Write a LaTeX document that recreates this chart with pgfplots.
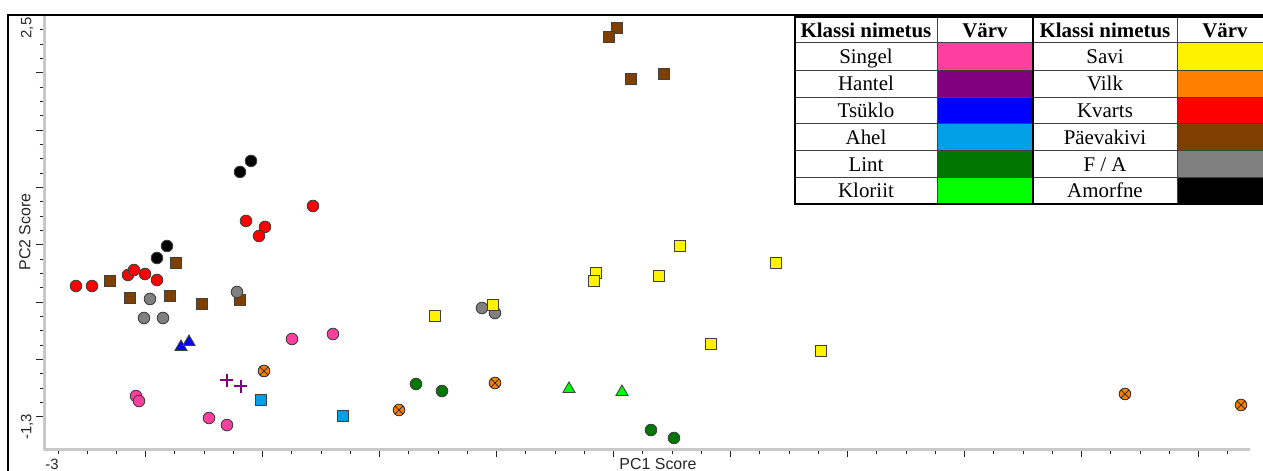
\documentclass[border=0pt]{standalone}
\usepackage{fontspec}
\setmainfont{Liberation Serif}
\newfontfamily\sansf{Liberation Sans}
\usepackage{pgfplots}
\pgfplotsset{compat=1.18}
\definecolor{csingel}{HTML}{FF3FA0}
\definecolor{chantel}{HTML}{800080}
\definecolor{ctsuklo}{HTML}{0000FF}
\definecolor{cahel}{HTML}{00A0E6}
\definecolor{clint}{HTML}{007800}
\definecolor{ckloriit}{HTML}{00FF00}
\definecolor{csavi}{HTML}{FFF200}
\definecolor{cvilk}{HTML}{FF8000}
\definecolor{ckvarts}{HTML}{FF0000}
\definecolor{cpaev}{HTML}{7F3F00}
\definecolor{cfa}{HTML}{808080}
\definecolor{camorf}{HTML}{000000}
\definecolor{axgray}{HTML}{C8C8C8}
\pgfplotsset{
  circ/.style={only marks, mark=*, mark size=5.8bp, mark options={fill=#1, draw=black!75, line width=0.9bp}},
  sq/.style={only marks, mark=square*, mark size=5.8bp, mark options={fill=#1, draw=black!75, line width=1bp}},
  tri/.style={only marks, mark=triangle*, mark size=7bp, mark options={fill=#1, draw=black!75, line width=0.9bp}},
}
\begin{document}
\begin{tikzpicture}
\begin{axis}[
  scale only axis, width=1206bp, height=435bp,
  xmin=-3.07, xmax=2.96, ymin=-1.624, ymax=2.647,
  axis x line*=bottom, axis y line*=left,
  axis line style={draw=axgray, line width=3bp, -},
  xtick={-2.56125,-1.97625,...,2.71},
  minor xtick={-3,-2.85375,...,2.86},
  ytick={-1.3,-0.737037,...,2.1},
  minor ytick={-1.3,-1.159259,...,2.51},
  xticklabels={}, yticklabels={},
  tick align=outside,
  major tick length=7.5bp, minor tick length=4.5bp,
  every tick/.style={black!85, line width=1bp},
  clip=false,
]
% Kvarts
\addplot[circ=ckvarts] coordinates {(-2.91,-0.014) (-2.83,-0.014) (-2.65,0.094) (-2.62,0.143) (-2.565,0.104) (-2.505,0.045) (-2.06,0.625) (-1.965,0.566) (-1.995,0.477) (-1.725,0.772)};
% Amorfne
\addplot[circ=camorf] coordinates {(-2.455,0.379) (-2.505,0.261) (-2.09,1.106) (-2.035,1.214)};
% Paevakivi
\addplot[sq=cpaev] coordinates {(-2.74,0.035) (-2.41,0.212) (-2.64,-0.131) (-2.44,-0.112) (-2.28,-0.190) (-2.09,-0.151) (-0.205,2.520) (-0.245,2.431) (-0.135,2.019) (0.03,2.068)};
% F / A
\addplot[circ=cfa] coordinates {(-2.54,-0.141) (-2.57,-0.328) (-2.475,-0.328) (-2.105,-0.073) (-0.88,-0.230) (-0.815,-0.279)};
% Singel
\addplot[circ=csingel] coordinates {(-1.83,-0.534) (-1.625,-0.485) (-2.61,-1.094) (-2.595,-1.143) (-2.245,-1.310) (-2.155,-1.379)};
% Tsuklo
\addplot[tri=ctsuklo] coordinates {(-2.385,-0.613) (-2.345,-0.564)};
% Hantel
\addplot[only marks, mark=+, mark size=6.5bp, mark options={draw=chantel, line width=2.3bp}] coordinates {(-2.155,-0.937) (-2.085,-0.996)};
% Vilk
\addplot[only marks, mark=otimes*, mark size=5.8bp, mark options={fill=cvilk, draw=black!80, line width=0.9bp}] coordinates {(-1.97,-0.848) (-1.295,-1.231) (-0.815,-0.966) (2.335,-1.074) (2.915,-1.182)};
% Ahel
\addplot[sq=cahel] coordinates {(-1.985,-1.133) (-1.575,-1.290)};
% Lint
\addplot[circ=clint] coordinates {(-1.21,-0.976) (-1.08,-1.045) (-0.035,-1.428) (0.08,-1.506)};
% Kloriit
\addplot[tri=ckloriit] coordinates {(-0.445,-1.025) (-0.18,-1.055)};
% Savi
\addplot[sq=csavi] coordinates {(-1.115,-0.308) (-0.825,-0.200) (-0.31,0.114) (-0.32,0.035) (0.11,0.379) (0.005,0.085) (0.59,0.212) (0.265,-0.583) (0.815,-0.652)};
\end{axis}
\begin{scope}[x=1bp,y=-1bp,shift={(-44bp,450bp)}]
% frame
\draw[line width=1.5bp] (8,480) -- (8,15) -- (1275,15);
% axis texts
\node[font=\sansf\fontsize{16}{16}\selectfont, text=black!85] at (658,464) {PC1 Score};
\node[font=\sansf\fontsize{16}{16}\selectfont, text=black!85, rotate=90] at (25,232) {PC2 Score};
\node[font=\sansf\fontsize{15}{15}\selectfont, text=black!85] at (52,464) {-3};
\node[font=\sansf\fontsize{15}{15}\selectfont, text=black!85, rotate=90] at (27,28) {2,5};
\node[font=\sansf\fontsize{15}{15}\selectfont, text=black!85, rotate=90] at (27,427) {-1,3};
% legend table
\fill[white] (795,17) rectangle (1275,204);
\fill[csingel] (937,43) rectangle (1033,71);
\fill[chantel] (937,71) rectangle (1033,98);
\fill[ctsuklo] (937,98) rectangle (1033,124);
\fill[cahel] (937,124) rectangle (1033,151);
\fill[clint] (937,151) rectangle (1033,178);
\fill[ckloriit] (937,178) rectangle (1033,204);
\fill[csavi] (1177,43) rectangle (1275,71);
\fill[cvilk] (1177,71) rectangle (1275,98);
\fill[ckvarts] (1177,98) rectangle (1275,124);
\fill[cpaev] (1177,124) rectangle (1275,151);
\fill[cfa] (1177,151) rectangle (1275,178);
\fill[camorf] (1177,178) rectangle (1275,204);
\foreach \r in {43,71,98,124,151,178} {\draw[black!75, line width=1bp] (795,\r) -- (1275,\r);}
\draw[black!75, line width=1bp] (937,17) -- (937,204);
\draw[black!75, line width=1bp] (1177,17) -- (1177,204);
\draw[black, line width=2bp] (795,17) rectangle (1275,204);
\draw[black, line width=2bp] (1033,17) -- (1033,204);
\begin{scope}[every node/.style={font=\fontsize{21}{21}\selectfont, anchor=base, inner sep=0pt}]
\node[font=\bfseries\fontsize{21}{21}\selectfont] at (866,37.5) {Klassi nimetus};
\node[font=\bfseries\fontsize{21}{21}\selectfont] at (985,37.5) {Värv};
\node[font=\bfseries\fontsize{21}{21}\selectfont] at (1105,37.5) {Klassi nimetus};
\node[font=\bfseries\fontsize{21}{21}\selectfont] at (1225,37.5) {Värv};
\node at (866,64) {Singel};
\node at (866,91) {Hantel};
\node at (866,118) {Tsüklo};
\node at (866,144.5) {Ahel};
\node at (866,171.5) {Lint};
\node at (866,198) {Kloriit};
\node at (1105,64) {Savi};
\node at (1105,91) {Vilk};
\node at (1105,118) {Kvarts};
\node at (1105,144.5) {Päevakivi};
\node at (1105,171.5) {F / A};
\node at (1105,198) {Amorfne};
\end{scope}
\pgfresetboundingbox
\path[use as bounding box] (0,0) rectangle (1263,471);
\end{scope}
\end{tikzpicture}
\end{document}
